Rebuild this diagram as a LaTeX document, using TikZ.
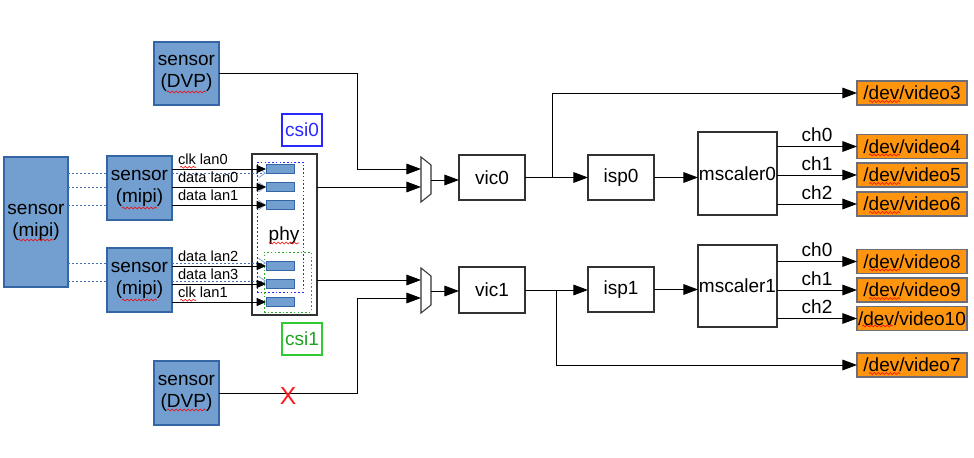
\documentclass[tikz,border=0pt]{standalone}
\usepackage{fontspec}
\setmainfont{Liberation Sans}
\usetikzlibrary{arrows.meta,calc,decorations.pathmorphing}

\definecolor{sensorfill}{RGB}{114,159,207}
\definecolor{sensorline}{RGB}{52,101,164}
\definecolor{devfill}{RGB}{255,149,14}
\definecolor{devline}{RGB}{110,110,120}
\definecolor{csiblue}{RGB}{40,40,255}
\definecolor{csigreen}{RGB}{50,200,50}
\definecolor{csigreentext}{RGB}{30,160,30}
\definecolor{boxline}{RGB}{50,50,50}
\definecolor{laneblue}{RGB}{70,110,180}
\definecolor{tipblue}{RGB}{140,165,220}

\begin{document}
\begin{tikzpicture}[x=0.75pt,y=-0.75pt,
  every node/.style={font=\fontsize{14.25}{16.5}\selectfont, inner sep=0pt, outer sep=0pt},
  sz/.style 2 args={minimum width=#1*0.75pt, minimum height=#2*0.75pt},
  sensor/.style={draw=sensorline, fill=sensorfill, line width=0.8pt, align=center},
  block/.style={draw=boxline, fill=white, line width=0.9pt},
  lane/.style={draw=sensorline, fill=sensorfill, line width=0.6pt, sz={28}{9}},
  dev/.style={draw=devline, fill=devfill, line width=0.8pt, sz={110}{24}},
  arr/.style={line width=0.75pt, -{Triangle[length=11pt,width=8pt]}},
  arrs/.style={line width=0.75pt, -{Triangle[length=7pt,width=6pt]}},
  mipiline/.style={draw=laneblue, line width=0.75pt, dash pattern=on 1.5pt off 1.5pt,
    -{Straight Barb[length=5pt,width=7pt,line width=0.6pt,color=tipblue]}},
  lanelab/.style={font=\fontsize{11}{12}\selectfont, anchor=base west, xshift=4.5pt, yshift=3.2pt},
  chlab/.style={midway, anchor=south, yshift=3.5pt},
  spell/.style={draw=red, line width=0.45pt, decorate,
    decoration={snake, amplitude=0.7pt, segment length=3pt}}]

\useasboundingbox (0,0) rectangle (974,457);

% ---- phy block with its lane receivers ----
\node[block, sz={65}{161}] (phy) at (284.5,234.5) {};
\node (phyl) at (284,236) {phy};
\node[draw=csiblue, line width=0.75pt, dash pattern=on 1.2pt off 1.6pt, sz={46}{130}] (csi0area) at (280,227) {};
\node[draw=csigreen!85!black, line width=0.75pt, dash pattern=on 1.2pt off 1.6pt, sz={47}{60}] (csi1area) at (287.5,282) {};
\node[lane] (r1) at (280,169) {};
\node[lane] (r2) at (280,187) {};
\node[lane] (r3) at (280,205) {};
\node[lane] (r4) at (280,266) {};
\node[lane] (r5) at (280,284) {};
\node[lane] (r6) at (280,302) {};

\node[draw=csiblue, text=csiblue, line width=0.8pt, sz={40}{32}] (csi0) at (302,130) {csi0};
\node[draw=csigreen, text=csigreentext, line width=0.8pt, sz={40}{32}] (csi1) at (302,339) {csi1};

% ---- four-lane sensor, wired straight to the phy ----
\node[sensor, sz={64}{130}] (S0) at (36,222) {sensor\\(mipi)};
\coordinate (d1) at (266,173);
\coordinate (d2) at (266,187);
\coordinate (d3) at (266,205);
\coordinate (d4) at (266,263);
\coordinate (d5) at (266,281);
\foreach \d in {d1,d2,d3,d4,d5}
  \draw[mipiline] (S0.east |- \d) -- (\d);

% ---- two-lane sensors ----
\node[sensor, sz={65}{64}] (sA) at (139.5,188) {sensor\\(mipi)};
\node[sensor, sz={65}{64}] (sB) at (139.5,280) {sensor\\(mipi)};

\draw[arrs] (sA.east |- r1) -- node[lanelab, pos=0] (lclk0) {clk lan0} (r1.west);
\draw[arrs] (sA.east |- r2) -- node[lanelab, pos=0] {data lan0} (r2.west);
\draw[arrs] (sA.east |- r3) -- node[lanelab, pos=0] {data lan1} (r3.west);
\draw[arrs] (sB.east |- r4) -- node[lanelab, pos=0] {data lan2} (r4.west);
\draw[arrs] (sB.east |- r5) -- node[lanelab, pos=0] {data lan3} (r5.west);
\draw[arrs] (sB.east |- r6) -- node[lanelab, pos=0] (lclk1) {clk lan1} (r6.west);

% ---- parallel sensors ----
\node[sensor, sz={65}{63}] (dvp0) at (186.5,73.5) {sensor\\(DVP)};
\node[sensor, sz={65}{64}] (dvp1) at (186.5,393) {sensor\\(DVP)};

% ---- input selectors ----
\draw[boxline, fill=white, line width=0.8pt] (421,157) -- (431,165) -- (431,194) -- (421,202) -- cycle;
\draw[boxline, fill=white, line width=0.8pt] (421,268) -- (431,276) -- (431,305) -- (421,313) -- cycle;
\coordinate (m0a) at (421,169);
\coordinate (m0b) at (421,187);
\coordinate (m0o) at (431,180);
\coordinate (m1a) at (421,280);
\coordinate (m1b) at (421,298);
\coordinate (m1o) at (431,291);

\draw[arr] (dvp0.east) -| ($(m0a)+(-64,0)$) -- (m0a);
\draw[arr] (phy.east |- m0b) -- (m0b);
\draw[arr] (phy.east |- m1a) -- (m1a);
\draw[arr] (dvp1.east) -| ($(m1b)+(-64,0)$) -- (m1b);
\node[text=red!90!white, font=\fontsize{18.5}{18.5}\selectfont] (nolink) at (288,396) {X};

% ---- capture / isp / scaler chains ----
\node[block, sz={66}{45}] (vic0) at (492,177.5) {vic0};
\node[block, sz={66}{46}] (vic1) at (492,290) {vic1};
\node[block, sz={66}{45}] (isp0) at (621,177.5) {isp0};
\node[block, sz={66}{45}] (isp1) at (621,289.5) {isp1};
\node[block, sz={79}{83}] (msc0) at (737.5,173.5) {mscaler0};
\node[block, sz={79}{82}] (msc1) at (737.5,286) {mscaler1};

\draw[arr] (m0o) -- (m0o -| vic0.west);
\draw[arr] (m1o) -- (m1o -| vic1.west);
\draw[arr] (vic0.east) -- (vic0.east -| isp0.west);
\draw[arr] (vic1.east) -- (vic1.east -| isp1.west);
\draw[arr] (isp0.east) -- (isp0.east -| msc0.west);
\draw[arr] (isp1.east) -- (isp1.east -| msc1.west);

% ---- video device nodes ----
\node[dev] (v3) at (912,93) {/dev/video3};
\node[dev] (v4) at (912,146.5) {/dev/video4};
\node[dev] (v5) at (912,175) {/dev/video5};
\node[dev] (v6) at (912,204) {/dev/video6};
\node[dev] (v8) at (912,261.5) {/dev/video8};
\node[dev] (v9) at (912,290) {/dev/video9};
\node[dev] (v10) at (912,318.5) {/dev/video10};
\node[dev] (v7) at (912,365) {/dev/video7};

\draw[arr] ($(vic0.east)+(27,0)$) |- (v3);
\draw[arr] ($(vic1.east)+(31,0)$) |- (v7);
\draw[arr] (msc0.east |- v4) -- node[chlab] {ch0} (v4.west);
\draw[arr] (msc0.east |- v5) -- node[chlab] {ch1} (v5.west);
\draw[arr] (msc0.east |- v6) -- node[chlab] {ch2} (v6.west);
\draw[arr] (msc1.east |- v8) -- node[chlab] {ch0} (v8.west);
\draw[arr] (msc1.east |- v9) -- node[chlab] {ch1} (v9.west);
\draw[arr] (msc1.east |- v10) -- node[chlab] {ch2} (v10.west);

% ---- spell-checker underlines ----
\draw[spell] ($(S0.center)+(-18,18)$) -- ++(35,0);
\draw[spell] ($(sA.center)+(-17.5,20)$) -- ++(35,0);
\draw[spell] ($(sB.center)+(-17.5,20)$) -- ++(35,0);
\draw[spell] ($(dvp0.center)+(-19.5,18.5)$) -- ++(39,0);
\draw[spell] ($(dvp1.center)+(-19.5,17)$) -- ++(39,0);
\draw[spell] ($(phyl.center)+(-15,7)$) -- ++(30,0);
\draw[spell] ($(lclk0.base west)+(2,2.5)$) -- ++(16,0);
\draw[spell] ($(lclk1.base west)+(2,2.5)$) -- ++(16,0);
\foreach \v in {v3,v4,v5,v6,v8,v9,v7}
  \draw[spell] ($(\v.center)+(-43,8.5)$) -- ++(31,0);
\draw[spell] ($(v10.center)+(-50,7.5)$) -- ++(31,0);

\end{tikzpicture}
\end{document}
